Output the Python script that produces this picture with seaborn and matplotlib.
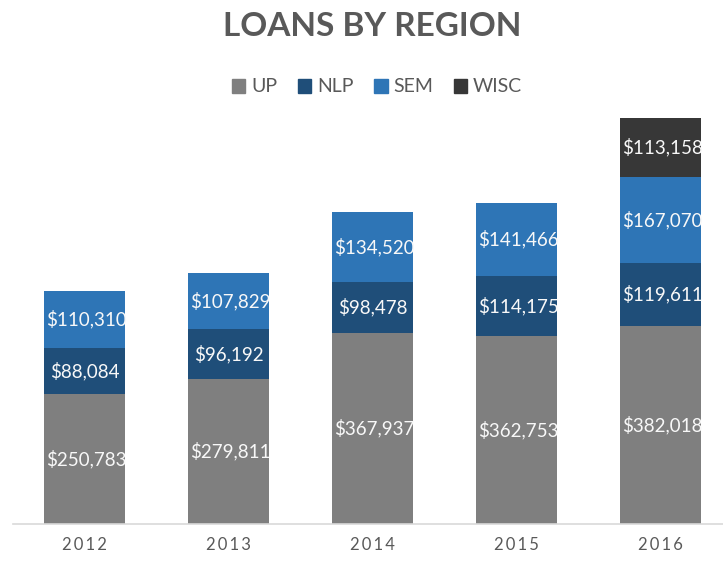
import numpy as np
import pandas as pd
import matplotlib.pyplot as plt
import seaborn as sns

# Loan amounts per region and year
years = ['2012', '2013', '2014', '2015', '2016']
regions = ['UP', 'NLP', 'SEM', 'WISC']
up = [250783, 279811, 367937, 362753, 382018]
nlp = [88084, 96192, 98478, 114175, 119611]
sem = [110310, 107829, 134520, 141466, 167070]
wisc = [0, 0, 0, 0, 113158]

colors = ['#7f7f7f', '#1f4e79', '#2e75b6', '#373737']

sns.set_theme(style='white')
plt.rcParams['font.family'] = ['Lato', 'DejaVu Sans']

fig = plt.figure(figsize=(7.23, 5.62), dpi=100)
ax = fig.add_axes([12.5 / 723, 1 - 524 / 562, 720 / 723, 414 / 562])

series = np.array([up, nlp, sem, wisc], dtype=float)
tops = np.cumsum(series, axis=0)
bottoms = tops - series

# stacked bars: draw the cumulative totals from the top segment down
for i in reversed(range(len(regions))):
    heights = np.where(series[i] > 0, tops[i], 0)
    df = pd.DataFrame({'year': years, 'value': heights})
    sns.barplot(data=df, x='year', y='value', color=colors[i], saturation=1,
                width=81 / 144, ax=ax, linewidth=0)

# value labels, clipped to the bar like in the original
half = 81 / 144 / 2
for i in range(len(regions)):
    for j in range(len(years)):
        if series[i][j] <= 0:
            continue
        lab = '${:,.0f}'.format(series[i][j])
        y = bottoms[i][j] + series[i][j] / 2
        if len(lab) > 7:
            t = ax.text(j - half + 0.012, y, lab, ha='left', va='center',
                        color='#f8f8f8', fontsize=13.5)
        else:
            t = ax.text(j, y, lab, ha='center', va='center',
                        color='#f8f8f8', fontsize=13.5)
        rect = plt.Rectangle((j - half, bottoms[i][j]), 2 * half, series[i][j],
                             transform=ax.transData)
        t.set_clip_path(rect)

ax.set_xlim(-0.5, 4.5)
ax.set_ylim(0, 797000)
ax.set_xlabel('')
ax.set_ylabel('')
ax.set_yticks([])
ax.set_xticks(range(len(years)))
ax.set_xticklabels(['\u2009'.join(y) for y in years], fontsize=12, color='#595959')
ax.tick_params(axis='x', length=0, pad=9)
for s in ['top', 'left', 'right']:
    ax.spines[s].set_visible(False)
ax.spines['bottom'].set_color('#d9d9d9')
ax.spines['bottom'].set_linewidth(1.2)

handles = [plt.Rectangle((0, 0), 1, 1, color=c) for c in colors]
fig.legend(handles, regions, loc='center', bbox_to_anchor=(377 / 723, 1 - 87 / 562),
           ncol=4, frameon=False, fontsize=14, handlelength=0.7, handleheight=0.7,
           handletextpad=0.3, columnspacing=1.05, labelcolor='#595959')

fig.text(372 / 723, 1 - 27 / 562, 'LOANS BY REGION', ha='center', va='center',
         fontsize=24, fontweight='bold', color='#595959')

fig.savefig('out.png', dpi=100)
